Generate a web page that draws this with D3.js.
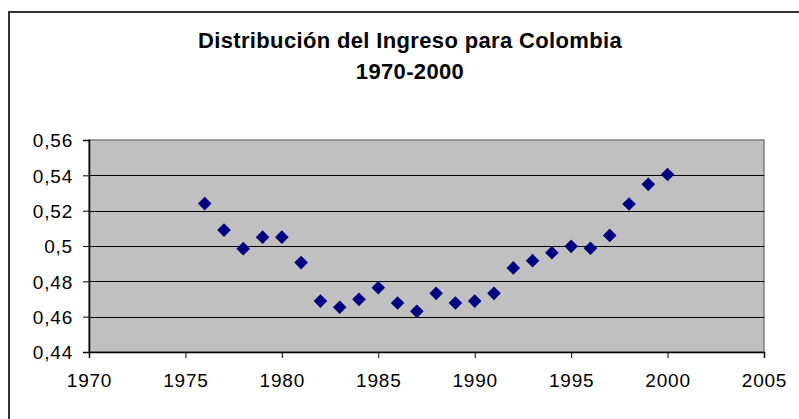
<!DOCTYPE html>
<html>
<head>
<meta charset="utf-8">
<script src="https://cdn.jsdelivr.net/npm/d3@7"></script>
<style>
  body { margin: 0; background: #fff; }
  text { font-family: "Liberation Sans", Arial, sans-serif; }
</style>
</head>
<body>
<script>
// data
var years = [1976, 1977, 1978, 1979, 1980, 1981, 1982, 1983, 1984, 1985,
             1986, 1987, 1988, 1989, 1990, 1991, 1992, 1993, 1994, 1995,
             1996, 1997, 1998, 1999, 2000];
var gini  = [0.524, 0.509, 0.4985, 0.505, 0.505, 0.4906, 0.4688, 0.4653, 0.4698, 0.4764,
             0.4677, 0.463, 0.4732, 0.4677, 0.4688, 0.4732, 0.4876, 0.4917, 0.4962, 0.4998,
             0.4987, 0.506, 0.5238, 0.5349, 0.5405];
var xTicks = [1970, 1975, 1980, 1985, 1990, 1995, 2000, 2005];
var yTicks = [0.44, 0.46, 0.48, 0.5, 0.52, 0.54, 0.56];
var titleLines = ["Distribución del Ingreso para Colombia", "1970-2000"];

var width = 799, height = 419;
var plot = {left: 89, right: 764, top: 140, bottom: 352};

var svg = d3.select("body").append("svg")
    .attr("width", width)
    .attr("height", height);

// outer chart frame (runs off the right and bottom)
svg.append("rect")
    .attr("x", 9).attr("y", 12)
    .attr("width", 820).attr("height", 440)
    .style("fill", "#fff")
    .style("stroke", "#333")
    .style("stroke-width", 2);

var x = d3.scaleLinear().domain([1970, 2005]).range([plot.left, plot.right]);
var y = d3.scaleLinear().domain([0.44, 0.56]).range([plot.bottom, plot.top]);

// plot area
svg.append("rect")
    .attr("x", plot.left).attr("y", plot.top)
    .attr("width", plot.right - plot.left)
    .attr("height", plot.bottom - plot.top)
    .style("fill", "#c0c0c0")
    .style("stroke", "#808080")
    .style("stroke-width", 1.5);

// gridlines
svg.append("g")
    .selectAll("line")
    .data(yTicks.slice(1, -1))
    .enter().append("line")
    .attr("x1", plot.left).attr("x2", plot.right)
    .attr("y1", function(d) { return Math.round(y(d)) + 0.5; })
    .attr("y2", function(d) { return Math.round(y(d)) + 0.5; })
    .style("stroke", "#000")
    .style("stroke-width", 1);

var fmt = function(d) { return d3.format("")(+d.toFixed(2)).replace(".", ","); };

var yAxis = svg.append("g")
    .attr("transform", "translate(" + plot.left + ",0)")
    .call(d3.axisLeft(y).tickValues(yTicks).tickFormat(fmt).tickSize(6).tickPadding(10));
yAxis.selectAll("text")
    .style("font-size", "19px")
    .style("letter-spacing", "0.8px")
    .style("fill", "#000")
    .attr("dy", "0.36em");

var xAxis = svg.append("g")
    .attr("transform", "translate(0," + plot.bottom + ")")
    .call(d3.axisBottom(x).tickValues(xTicks).tickFormat(d3.format("d")).tickSize(6).tickPadding(16));
xAxis.selectAll("text")
    .style("font-size", "19px")
    .style("letter-spacing", "0.8px")
    .style("fill", "#000");

svg.selectAll(".domain").style("stroke", "#000").style("stroke-width", 1.5);
svg.selectAll(".tick line").style("stroke", "#000");

// points
var data = years.map(function(yr, i) { return {year: yr, v: gini[i]}; });
var r = 6.8;
svg.append("g")
    .selectAll("path")
    .data(data)
    .enter().append("path")
    .attr("d", function(d) {
        var cx = x(d.year), cy = y(d.v);
        return "M" + cx + "," + (cy - r) + "L" + (cx + r) + "," + cy +
               "L" + cx + "," + (cy + r) + "L" + (cx - r) + "," + cy + "Z";
    })
    .style("fill", "#000080");

// title
svg.append("g")
    .selectAll("text")
    .data(titleLines)
    .enter().append("text")
    .attr("x", 410)
    .attr("y", function(d, i) { return 48 + i * 31; })
    .attr("text-anchor", "middle")
    .attr("font-weight", "bold")
    .style("font-size", "22px")
    .style("letter-spacing", "0.35px")
    .text(function(d) { return d; });
</script>
</body>
</html>
